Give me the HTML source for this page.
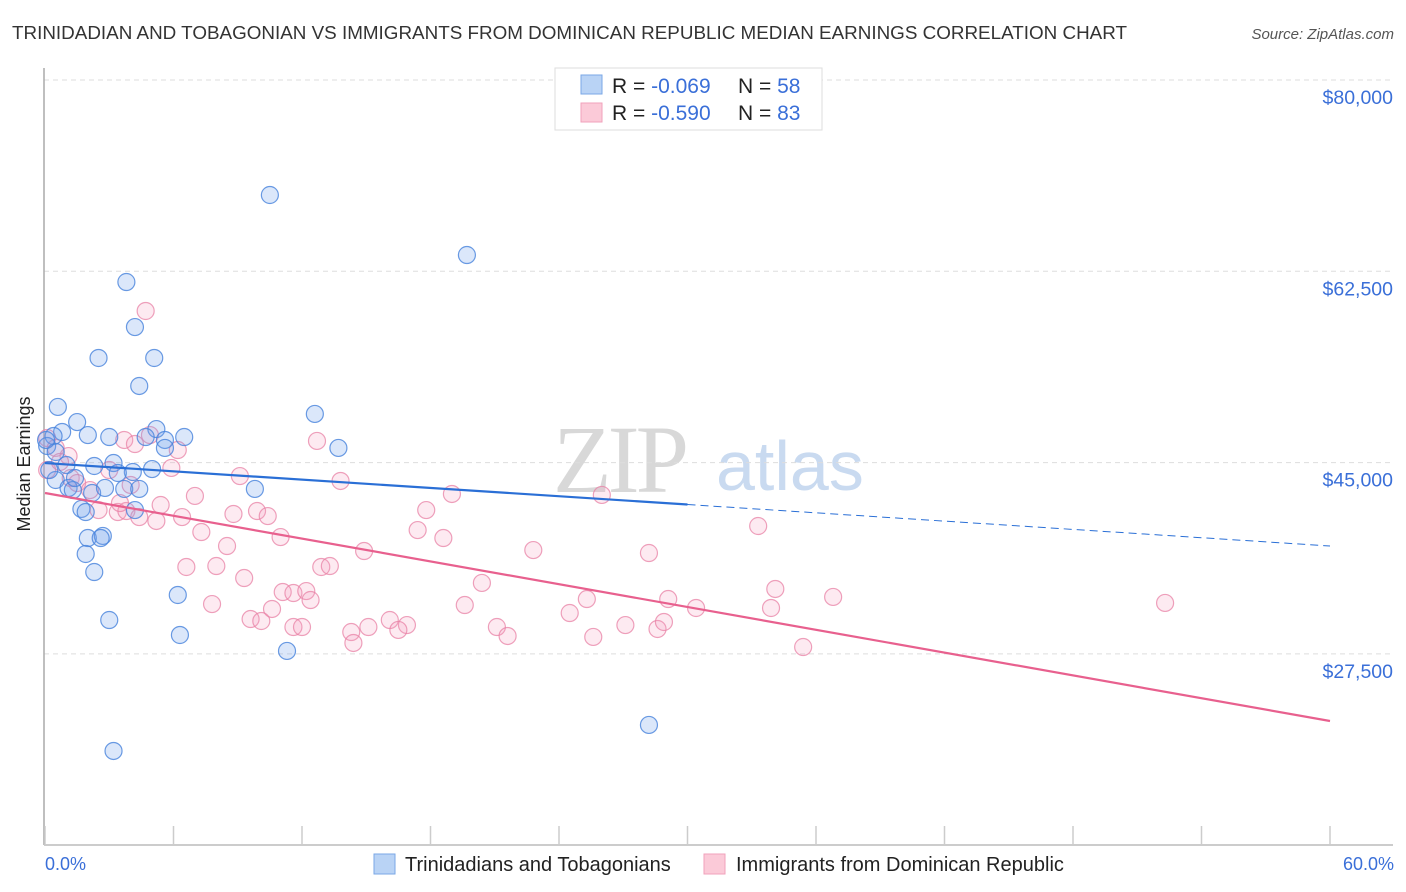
<!DOCTYPE html>
<html><head><meta charset="utf-8"><style>
html,body{margin:0;padding:0;background:#fff;width:1406px;height:892px;overflow:hidden;font-family:"Liberation Sans",sans-serif}
svg{display:block}
</style></head><body>
<svg id="chart" width="1406" height="892" xmlns="http://www.w3.org/2000/svg">
<text x="12" y="39" font-size="18" fill="#333" textLength="1115" lengthAdjust="spacingAndGlyphs">TRINIDADIAN AND TOBAGONIAN VS IMMIGRANTS FROM DOMINICAN REPUBLIC MEDIAN EARNINGS CORRELATION CHART</text>
<text x="1394" y="39" font-size="15" fill="#555" font-style="italic" text-anchor="end">Source: ZipAtlas.com</text>
<g>
<text x="553" y="492" font-size="96" font-family="Liberation Serif,serif" fill="#d8d8d8" letter-spacing="-4">ZIP</text>
<text x="716" y="490" font-size="70" fill="#c9daf0">atlas</text>
</g>
<g id="grid"></g>
<line x1="44" y1="68" x2="44" y2="845" stroke="#aaa" stroke-width="1.5"/>
<line x1="44" y1="845" x2="1393" y2="845" stroke="#bbb" stroke-width="1.5"/>
<g id="xticks"></g>
<text x="22" y="456" font-size="18" fill="#222" text-anchor="middle" transform="rotate(-90 30 456)">Median Earnings</text>
<text x="45" y="870" font-size="18" fill="#3a6fd8">0.0%</text>
<text x="1394" y="870" font-size="18" fill="#3a6fd8" text-anchor="end">60.0%</text>
<g id="points"></g>
<g id="lines"></g>
<g>
<rect x="555" y="68" width="267" height="62" fill="#fff" stroke="#ddd"/>
<rect x="581" y="75" width="21" height="19" fill="#b9d3f5" stroke="#7aa7e6"/>
<rect x="581" y="103" width="21" height="19" fill="#fbcad8" stroke="#f0a2bb"/>
<text x="612" y="93" font-size="21" fill="#222">R = <tspan fill="#3a6fd8">-0.069</tspan><tspan x="738">N = </tspan><tspan fill="#3a6fd8">58</tspan></text>
<text x="612" y="120" font-size="21" fill="#222">R = <tspan fill="#3a6fd8">-0.590</tspan><tspan x="738">N = </tspan><tspan fill="#3a6fd8">83</tspan></text>
</g>
<g>
<rect x="374" y="854" width="21" height="20" fill="#b9d3f5" stroke="#7aa7e6"/>
<text x="405" y="871" font-size="20" fill="#222">Trinidadians and Tobagonians</text>
</g>
<g>
<rect x="704" y="854" width="21" height="20" fill="#fbcad8" stroke="#f0a2bb"/>
<text x="736" y="871" font-size="20" fill="#222">Immigrants from Dominican Republic</text>
</g>
</svg>
<script>
const yTicks=[80000,62500,45000,27500];
const yTickLabels=["$80,000","$62,500","$45,000","$27,500"];
const xTickPcts=[0,6,12,18,24,30,36,42,48,54,60];
const blueX=[10.5,19.7,3.8,4.2,2.5,5.1,4.4,0.6,12.6,1.5,5.2,0.8,0.4,2.0,3.0,4.7,6.5,5.6,5.6,13.7,0.1,0.5,1.0,2.3,3.2,4.1,5.0,3.4,0.5,1.1,1.3,2.2,2.8,3.7,4.4,9.8,1.7,1.9,4.2,2.0,2.7,2.6,1.9,2.3,6.2,3.0,6.3,11.3,28.2,3.2,0.05,0.2,1.4];
const blueY=[69480,63990,61520,57400,54570,54570,52010,50090,49450,48710,48070,47800,47430,47520,47340,47340,47340,47070,46340,46340,46520,45970,44780,44690,44960,44140,44410,44050,43410,42680,42490,42220,42680,42590,42590,42590,40760,40480,40660,38100,38290,38100,36640,34990,32890,30600,29230,27770,21000,18620,47070,44320,43590];
const pinkX=[4.7,0.1,0.5,1.1,3.7,4.2,4.9,5.9,6.2,9.1,12.7,13.8,19.0,26.0,7.0,0.1,1.2,1.5,2.1,2.5,3.4,3.8,4.4,5.2,5.4,6.4,7.3,8.8,9.9,10.4,8.5,11.0,17.4,17.8,18.6,14.9,22.8,28.2,33.3,6.6,8.0,9.3,12.9,13.3,20.4,7.8,9.6,10.1,10.6,11.1,11.6,12.2,12.4,11.6,12.0,16.1,16.9,16.5,14.3,15.1,14.4,19.6,21.1,21.6,24.5,25.3,25.6,27.1,28.6,28.9,29.1,30.4,33.9,34.1,36.8,35.4,52.3,3.5,0.7,3.0,4.0];
const pinkY=[58870,47250,46340,45600,47070,46700,47520,44510,46150,43770,46980,43320,42130,42040,41950,44320,43590,43130,42490,40660,40480,40570,40020,39660,41120,40020,38650,40300,40570,40110,37370,38190,38830,40660,38100,36910,37000,36730,39200,35450,35540,34440,35450,35540,33990,32060,30690,30510,31610,33160,33070,33250,32430,29960,29960,30600,30140,29690,29500,29960,28500,31970,29960,29140,31240,32520,29050,30140,29780,30420,32520,31700,31700,33440,32710,28130,32160,41300,45060,44320,42950];
const blueFit=[44960,37370];
const pinkFit=[42220,21360];
const blueSolidEnd=30;

const NS="http://www.w3.org/2000/svg";
function xs(p){return 45+(p/60)*1285;}
function ys(v){return 80+(80000-v)/17500*191.3;}
function mk(tag,attrs,parent){const e=document.createElementNS(NS,tag);for(const k in attrs)e.setAttribute(k,attrs[k]);document.getElementById(parent).appendChild(e);return e;}

yTicks.forEach((v,i)=>{
  const l=mk('line',{x1:44,x2:1393,y1:ys(v),y2:ys(v),stroke:'#ddd','stroke-dasharray':'5,4'},'grid');
  
  
  const t=mk('text',{x:1393,y:ys(v)+24,'font-size':19.5,fill:'#3a6fd8','text-anchor':'end'},'grid');
  t.textContent=yTickLabels[i];
  
  
});
xTickPcts.forEach(p=>{
  const l=mk('line',{x1:xs(p),x2:xs(p),y1:826,y2:845,stroke:'#ccc','stroke-width':1.5},'xticks');
  
  
});
function drawPts(X,Y,fill,stroke,name){
  X.forEach((x,i)=>{
    const c=mk('circle',{cx:xs(x),cy:ys(Y[i]),r:8.5,fill:fill,stroke:stroke,'stroke-width':1.2},'points');
    
    
  });
}
drawPts(pinkX,pinkY,'rgba(245,160,190,0.22)','rgba(232,130,165,0.75)','dominican-point');
drawPts(blueX,blueY,'rgba(110,160,235,0.25)','rgba(70,130,220,0.8)','trinidadian-point');
function fitV(f,p){return f[0]+(f[1]-f[0])*p/60;}
let l1=mk('line',{x1:xs(0),y1:ys(fitV(blueFit,0)),x2:xs(blueSolidEnd),y2:ys(fitV(blueFit,blueSolidEnd)),stroke:'#2a6fd6','stroke-width':2.2},'lines');


let l2=mk('line',{x1:xs(blueSolidEnd),y1:ys(fitV(blueFit,blueSolidEnd)),x2:xs(60),y2:ys(fitV(blueFit,60)),stroke:'#2a6fd6','stroke-width':1,'stroke-dasharray':'8,5'},'lines');


let l3=mk('line',{x1:xs(0),y1:ys(fitV(pinkFit,0)),x2:xs(60),y2:ys(fitV(pinkFit,60)),stroke:'#e8608e','stroke-width':2.2},'lines');


</script>
</body></html>
